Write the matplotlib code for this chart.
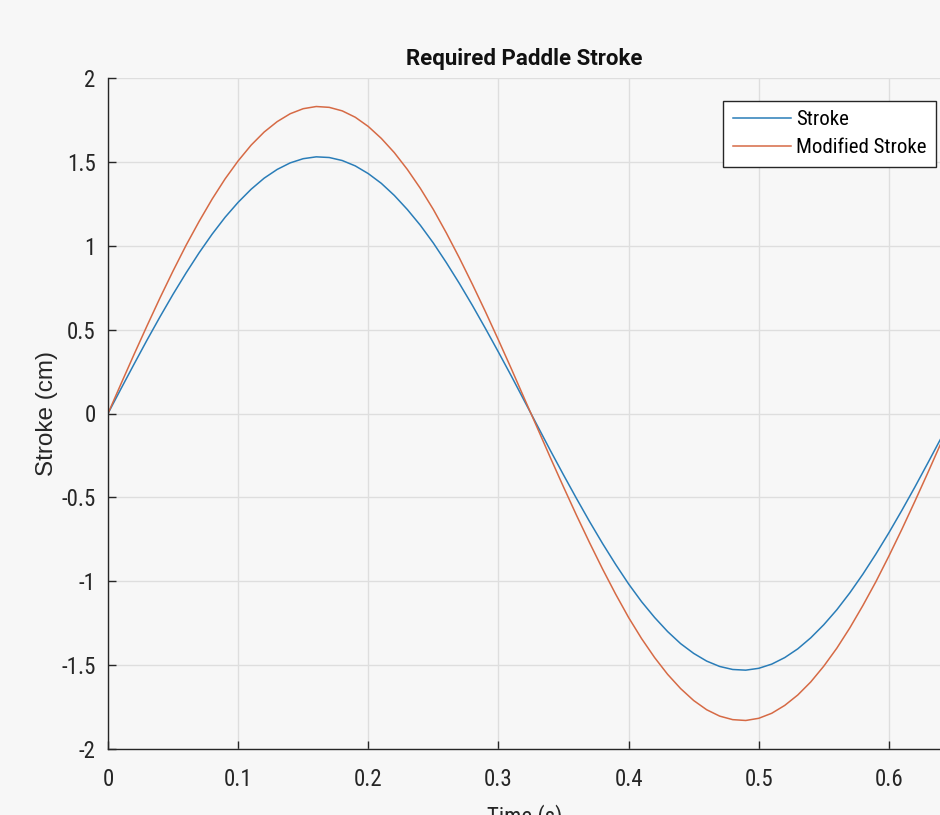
import matplotlib
matplotlib.use("Agg")
import matplotlib.pyplot as plt

time_s = [0.00, 0.01, 0.02, 0.03, 0.04, 0.05, 0.06, 0.07, 0.08, 0.09,
          0.10, 0.11, 0.12, 0.13, 0.14, 0.15, 0.16, 0.17, 0.18, 0.19,
          0.20, 0.21, 0.22, 0.23, 0.24, 0.25, 0.26, 0.27, 0.28, 0.29,
          0.30, 0.31, 0.32, 0.33, 0.34, 0.35, 0.36, 0.37, 0.38, 0.39,
          0.40, 0.41, 0.42, 0.43, 0.44, 0.45, 0.46, 0.47, 0.48, 0.49,
          0.50, 0.51, 0.52, 0.53, 0.54, 0.55, 0.56, 0.57, 0.58, 0.59,
          0.60, 0.61, 0.62, 0.63, 0.64]

stroke = [0.000, 0.148, 0.294, 0.438, 0.577, 0.711, 0.838, 0.958, 1.069, 1.170,
          1.259, 1.337, 1.403, 1.455, 1.494, 1.519, 1.530, 1.526, 1.508, 1.476,
          1.430, 1.372, 1.300, 1.216, 1.122, 1.016, 0.899, 0.775, 0.644, 0.507,
          0.366, 0.222, 0.074, -0.074, -0.222, -0.366, -0.507, -0.644, -0.775, -0.899,
          -1.016, -1.122, -1.216, -1.300, -1.372, -1.430, -1.476, -1.508, -1.526, -1.530,
          -1.519, -1.494, -1.455, -1.403, -1.337, -1.259, -1.170, -1.069, -0.958, -0.838,
          -0.711, -0.577, -0.438, -0.294, -0.148]

modified_stroke = [0.000, 0.177, 0.352, 0.523, 0.690, 0.850, 1.003, 1.145, 1.278, 1.399,
                   1.506, 1.600, 1.678, 1.740, 1.787, 1.817, 1.830, 1.825, 1.804, 1.766,
                   1.711, 1.640, 1.555, 1.455, 1.342, 1.216, 1.076, 0.927, 0.770, 0.607,
                   0.438, 0.265, 0.088, -0.088, -0.265, -0.438, -0.607, -0.770, -0.927, -1.076,
                   -1.216, -1.342, -1.455, -1.555, -1.640, -1.711, -1.766, -1.804, -1.825, -1.830,
                   -1.817, -1.787, -1.740, -1.678, -1.600, -1.506, -1.399, -1.278, -1.145, -1.003,
                   -0.850, -0.690, -0.523, -0.352, -0.177]

x_ticks = [0, 0.1, 0.2, 0.3, 0.4, 0.5, 0.6]
x_tick_labels = ["0", "0.1", "0.2", "0.3", "0.4", "0.5", "0.6"]
y_ticks = [-2, -1.5, -1, -0.5, 0, 0.5, 1, 1.5, 2]
y_tick_labels = ["-2", "-1.5", "-1", "-0.5", "0", "0.5", "1", "1.5", "2"]

bg = "#f7f7f7"
tick_font = "Roboto Condensed"
fig = plt.figure(figsize=(9.4, 8.15), dpi=100, facecolor=bg)
ax = fig.add_axes([108/940, 1 - 749/815, 1 - 108/940 + 0.001, (749 - 78)/815])
ax.set_facecolor(bg)

ax.plot(time_s, stroke, color="#2a7db8", lw=1.1, label="Stroke")
ax.plot(time_s, modified_stroke, color="#d66a45", lw=1.1, label="Modified Stroke")

ax.set_xlim(0, 0.64)
ax.set_ylim(-2, 2)
ax.set_xticks(x_ticks)
ax.set_xticklabels(x_tick_labels)
ax.set_yticks(y_ticks)
ax.set_yticklabels(y_tick_labels)

ax.grid(True, color="#dedede", lw=1.0)
ax.set_axisbelow(True)
for side in ["top", "right"]:
    ax.spines[side].set_visible(False)
for side in ["left", "bottom"]:
    ax.spines[side].set_color("#262626")
    ax.spines[side].set_linewidth(1.0)

ax.tick_params(direction="in", length=6, width=1.0, color="#262626",
               labelsize=16.5, labelcolor="#262626")
ax.tick_params(axis="x", pad=14)
ax.tick_params(axis="y", pad=9)
for lab in ax.get_xticklabels() + ax.get_yticklabels():
    lab.set_family(tick_font)

ax.set_title("Required Paddle Stroke", fontsize=16, fontweight="bold",
             family="Roboto", color="#111111", pad=9)
ax.set_ylabel("Stroke (cm)", fontsize=17.5, family="Liberation Sans",
              color="#262626", labelpad=2)
ax.set_xlabel("Time (s)", fontsize=16.5, family=tick_font, color="#262626", labelpad=9)

leg = ax.legend(loc="upper right", prop={"family": tick_font, "size": 15},
                frameon=True, fancybox=False, handlelength=2.8, handletextpad=0.25,
                borderpad=0.45, labelspacing=0.42, borderaxespad=0)
leg.set_bbox_to_anchor((936/940, 1 - 101/815), transform=fig.transFigure)
leg.get_frame().set_edgecolor("#262626")
leg.get_frame().set_linewidth(1.0)
leg.get_frame().set_facecolor("white")
leg.get_frame().set_alpha(1.0)

fig.savefig("out.png", dpi=100, facecolor=bg)
